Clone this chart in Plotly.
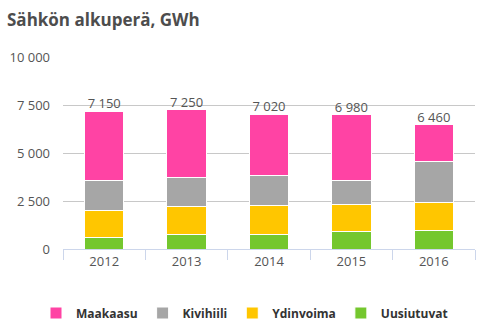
import plotly.graph_objects as go

years = ["2012", "2013", "2014", "2015", "2016"]
maakaasu = [3607, 3535, 3217, 3437, 1927]
kivihiili = [1563, 1527, 1563, 1235, 2121]
ydinvoima = [1355, 1458, 1459, 1422, 1474]
uusiutuvat = [625, 730, 781, 886, 938]
totals = [7150, 7250, 7020, 6980, 6460]
total_labels = ["7 150", "7 250", "7 020", "6 980", "6 460"]
ytick_vals = [0, 2500, 5000, 7500, 10000]
ytick_text = ["0", "2 500", "5 000", "7 500", "10 000"]

series = [
    ("Maakaasu", maakaasu, "#ff43a4"),
    ("Kivihiili", kivihiili, "#a6a6a6"),
    ("Ydinvoima", ydinvoima, "#ffc600"),
    ("Uusiutuvat", uusiutuvat, "#74c72e"),
]

fig = go.Figure()
for name, vals, col in reversed(series):
    fig.add_trace(go.Bar(
        x=years, y=vals, name="<b>" + name + "</b>",
        marker=dict(color=col, line=dict(color="white", width=1)),
        width=0.48, hoverinfo="skip",
    ))

fig.add_trace(go.Scatter(
    x=years, y=totals, mode="text", text=total_labels, textposition="top center",
    textfont=dict(size=13, color="#555555", family="Open Sans"), showlegend=False, cliponaxis=False,
))

fig.update_layout(
    barmode="stack",
    width=489, height=327,
    margin=dict(l=63, r=14, t=57, b=78, autoexpand=False),
    paper_bgcolor="white", plot_bgcolor="white",
    font=dict(family="Open Sans", size=13, color="#555555"),
    title=dict(text="<b>Sähkön alkuperä, GWh</b>", x=7/489, xanchor="left", xref="container",
               y=1 - 20/327, yanchor="middle", yref="container",
               font=dict(size=17, color="#4d4d4d", family="Open Sans")),
    legend=dict(orientation="h", x=0.5, xanchor="center", xref="container",
                y=1 - 313/327, yanchor="middle", yref="container",
                traceorder="reversed", font=dict(size=12, color="#333333", family="Open Sans"),
                itemwidth=30, tracegroupgap=0),
)
fig.update_yaxes(range=[0, 10000], tickvals=ytick_vals, ticktext=ytick_text,
                 showgrid=True, gridcolor="#c8c8c8", gridwidth=1, zeroline=False,
                 showline=False, ticks="", ticklabelstandoff=12,
                 tickfont=dict(size=13, color="#555555"))
fig.update_xaxes(showline=True, linecolor="#ccd6eb", linewidth=1, ticks="outside",
                 tickson="boundaries", ticklen=10, tickcolor="#ccd6eb",
                 tickfont=dict(size=13, color="#555555"))

fig.write_html("out.html")
